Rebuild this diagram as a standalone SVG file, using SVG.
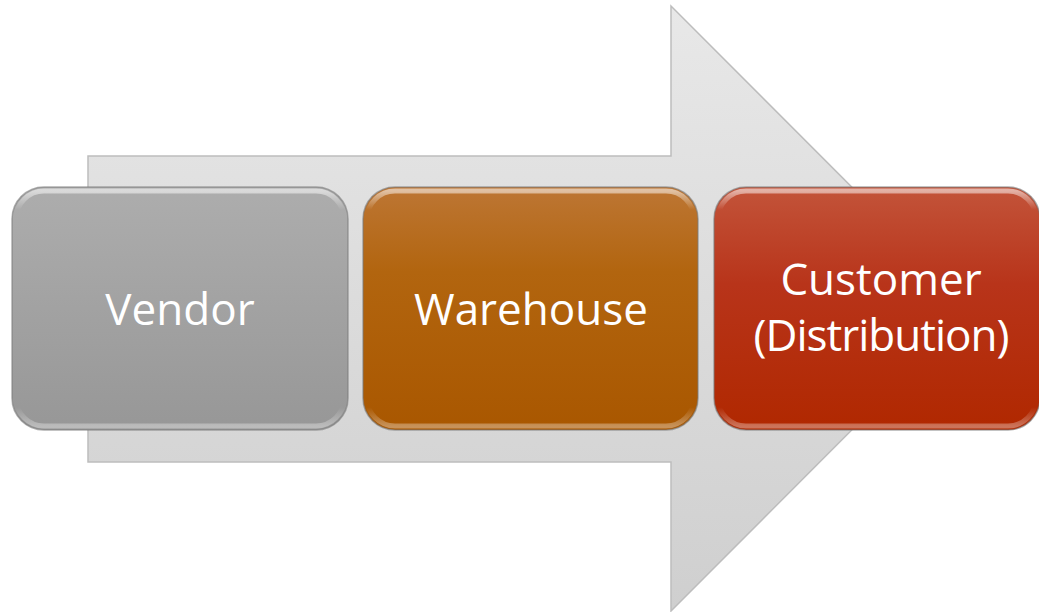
<svg xmlns="http://www.w3.org/2000/svg" width="1039" height="612" viewBox="0 0 1039 612">
<defs>
<linearGradient id="gArrow" x1="0" y1="0" x2="0" y2="1">
<stop offset="0" stop-color="#e8e8e8"/><stop offset="1" stop-color="#cfcfcf"/>
</linearGradient>
<linearGradient id="gGray" x1="0" y1="0" x2="0" y2="1">
<stop offset="0" stop-color="#adadad"/><stop offset="1" stop-color="#979797"/>
</linearGradient>
<linearGradient id="gOrange" x1="0" y1="0" x2="0" y2="1">
<stop offset="0" stop-color="#bd7634"/><stop offset="0.35" stop-color="#b2650f"/><stop offset="1" stop-color="#a95700"/>
</linearGradient>
<linearGradient id="gRed" x1="0" y1="0" x2="0" y2="1">
<stop offset="0" stop-color="#c3543a"/><stop offset="0.4" stop-color="#b8341a"/><stop offset="1" stop-color="#b02800"/>
</linearGradient>
<linearGradient id="gShine" x1="0" y1="0" x2="0" y2="1">
<stop offset="0" stop-color="#ffffff" stop-opacity="0.55"/><stop offset="0.08" stop-color="#ffffff" stop-opacity="0"/>
<stop offset="0.92" stop-color="#ffffff" stop-opacity="0"/><stop offset="1" stop-color="#ffffff" stop-opacity="0.35"/>
</linearGradient>
</defs>
<style>
.box{stroke:#7a7a7a;stroke-opacity:0.6;stroke-width:1.5}
.shine{fill:none;stroke:url(#gShine);stroke-width:5}
.lbl{font-family:"Open Sans","Noto Sans",sans-serif;font-size:44px;fill:#ffffff;text-anchor:middle}
</style>
<g id="arrow">
<path d="M88,156 L671,156 L671,6 L973,308.5 L671,611 L671,462 L88,462 Z" fill="url(#gArrow)" stroke="#bdbdbd" stroke-width="1.5"/>
</g>
<g id="connectors"></g>
<g id="vendor">
<rect class="box" x="12" y="187" width="336" height="243" rx="32" fill="url(#gGray)"/>
<rect class="shine" x="16" y="191" width="328" height="235" rx="28"/>
<text class="lbl" x="180" y="325">Vendor</text>
</g>
<g id="warehouse">
<rect class="box" x="363" y="187" width="335" height="243" rx="32" fill="url(#gOrange)"/>
<rect class="shine" x="367" y="191" width="327" height="235" rx="28"/>
<text class="lbl" x="531" y="325">Warehouse</text>
</g>
<g id="customer">
<rect class="box" x="714" y="187" width="326" height="243" rx="32" fill="url(#gRed)"/>
<rect class="shine" x="718" y="191" width="318" height="235" rx="28"/>
<text class="lbl" x="881" y="295">Customer</text>
<text class="lbl" x="881" y="351" letter-spacing="-1">(Distribution)</text>
</g>
</svg>
